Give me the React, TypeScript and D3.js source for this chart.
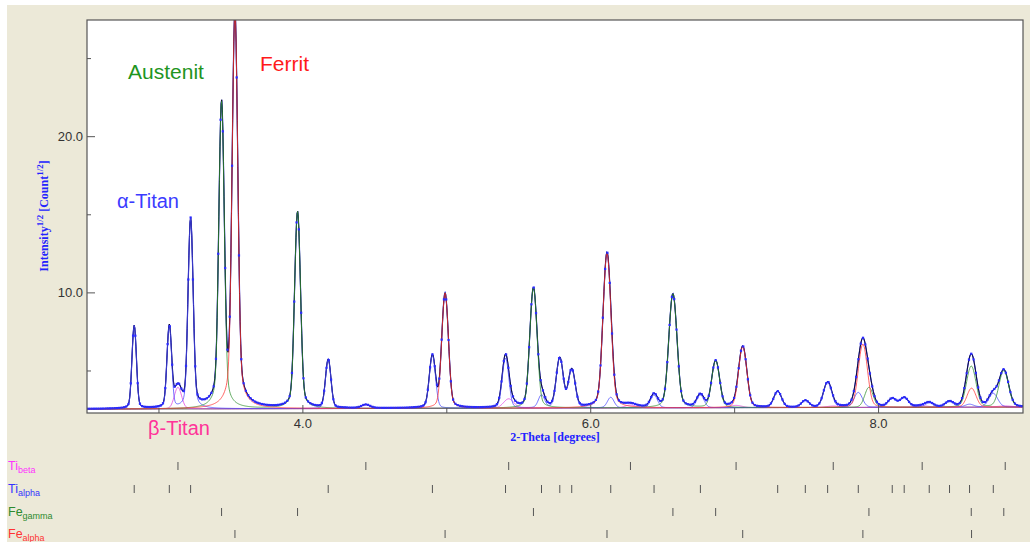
import React from 'react';
import * as d3 from 'd3';

const tiBetaPos = [3.132, 4.4375, 5.43, 6.276, 7.01, 7.685, 8.303, 8.88];
const tiBetaInt = [9.0, 1.2, 3.5, 1.0, 0.8, 0.5, 0.5, 0.4];

const tiAlphaPos = [2.828, 3.072, 3.22, 4.176, 4.9, 5.408, 5.658, 5.785, 5.868, 6.139, 6.44, 6.762, 7.299, 7.491, 7.646, 7.859, 8.095, 8.178, 8.352, 8.493, 8.632, 8.797];
const tiAlphaInt = [56, 56, 212, 26, 29, 27, 5, 27, 19, 4, 5, 5, 6.5, 2.5, 11, 6, 3.2, 3.6, 1.5, 2, 1, 5.5];

const feGammaPos = [3.435, 3.963, 5.602, 6.571, 6.868, 7.933, 8.644, 8.87];
const feGammaInt = [490, 225, 100, 92, 25, 8.5, 21, 18];

const feAlphaPos = [3.528, 4.988, 6.113, 7.056, 7.891, 8.646];
const feAlphaInt = [780, 93, 150, 36, 38, 8];

// background level (sqrt counts) at the two ends of the scan
const bgTheta = [2.5, 9.0];
const bgSqrt = [2.56, 2.69];

const xTicks = [3, 4, 5, 6, 7, 8];
const xTickLabels = ['', '4.0', '', '6.0', '', '8.0'];
const yTicks = [5, 10, 15, 20, 25];
const yTickLabels = ['', '10.0', '', '20.0', ''];

const phaseNames = ['Ti', 'Ti', 'Fe', 'Fe'];
const phaseSubs = ['beta', 'alpha', 'gamma', 'alpha'];
const phaseColors = ['#e040e0', '#4646ff', '#2f8f2f', '#ff3030'];
const phaseLabelColors = ['#ff33ff', '#3333ff', '#2d8a2d', '#ff3333'];

const PL = 87, PR = 1023, PT = 20, PB = 413;

function pv(t: number, x0: number, h: number, w: number) {
  const d = (t - x0) / w;
  const eta = 0.16;
  return h * (eta / (1 + 4 * d * d) + (1 - eta) * Math.exp(-4 * Math.LN2 * d * d));
}
function fwhm(t: number) {
  return 0.012 + 0.0065 * t;
}

export default function App() {
  const x = d3.scaleLinear().domain([2.5, 9.0]).range([PL, 1022.5]);
  const y = d3.scaleLinear().domain([2.31, 27.47]).range([PB, PT]);
  const bgScale = d3.scaleLinear().domain(bgTheta).range(bgSqrt);

  const phases = [
    { pos: tiBetaPos, int: tiBetaInt, wf: 1.7 },
    { pos: tiAlphaPos, int: tiAlphaInt, wf: 1 },
    { pos: feGammaPos, int: feGammaInt, wf: 1 },
    { pos: feAlphaPos, int: feAlphaInt, wf: 1 },
  ];

  const step = 0.004;
  const thetas = d3.range(2.5, 9.0 + 1e-9, step);
  const bgI = (t: number) => bgScale(t) ** 2;
  const phaseSum = (p: typeof phases[0], t: number) =>
    p.pos.reduce((s, x0, i) => s + pv(t, x0, p.int[i], fwhm(x0) * p.wf), 0);

  const rows = thetas.map((t) => {
    const parts = phases.map((p) => phaseSum(p, t));
    const b = bgI(t);
    return {
      t,
      bg: Math.sqrt(b),
      comps: parts.map((v) => Math.sqrt(b + v)),
      calc: Math.sqrt(b + d3.sum(parts)),
    };
  });

  const line = (acc: (r: typeof rows[0]) => number) =>
    d3
      .line<typeof rows[0]>()
      .x((r) => x(r.t))
      .y((r) => y(acc(r)))(rows) as string;

  const dots = rows.filter((_, i) => i % 4 === 0);

  const sans = 'Liberation Sans, Arial, sans-serif';
  const serif = 'Liberation Serif, Times New Roman, serif';

  const rowY = [466, 489, 512, 534];

  return (
    <svg width={1030} height={542} style={{ position: 'absolute', left: 0, top: 0 }}>
      <rect x={0} y={0} width={1030} height={542} fill="#ffffff" />
      <rect x={7} y={5} width={1023} height={537} fill="#ece9d8" />
      <defs>
        <clipPath id="plotclip">
          <rect x={PL} y={PT} width={PR - PL} height={PB - PT} />
        </clipPath>
      </defs>
      <rect x={PL} y={PT} width={PR - PL} height={PB - PT} fill="#ffffff" />
      <g clipPath="url(#plotclip)">
        <path d={line((r) => r.bg)} fill="none" stroke="#333" strokeWidth={1} />
        <path d={line((r) => r.calc)} fill="none" stroke="#2222ff" strokeWidth={1.2} />
        <path d={line((r) => r.calc)} fill="none" stroke="#111" strokeWidth={0.9} />
        {phaseColors.map((c, i) => (
          <path key={i} d={line((r) => r.comps[i])} fill="none" stroke={c} strokeWidth={1} opacity={0.75} />
        ))}
        {dots.map((r, i) => (
          <rect key={i} x={x(r.t) - 1.1} y={y(r.calc) - 1.1} width={2.2} height={2.2} fill="#2a2aff" />
        ))}
      </g>
      <rect x={PL} y={PT} width={PR - PL} height={PB - PT} fill="none" stroke="#555" strokeWidth={1.2} />
      {/* x ticks */}
      {xTicks.map((t, i) => (
        <g key={i}>
          <line x1={x(t)} x2={x(t)} y1={PB} y2={PB - (xTickLabels[i] ? 8 : 5)} stroke="#555" />
          {xTickLabels[i] && (
            <text x={x(t)} y={428} textAnchor="middle" fontFamily={sans} fontSize={13} fill="#333">
              {xTickLabels[i]}
            </text>
          )}
        </g>
      ))}
      {/* y ticks */}
      {yTicks.map((v, i) => (
        <g key={i}>
          <line x1={PL} x2={PL + (yTickLabels[i] ? 8 : 4)} y1={y(v)} y2={y(v)} stroke="#555" />
          {yTickLabels[i] && (
            <text x={83} y={y(v) + 4.5} textAnchor="end" fontFamily={sans} fontSize={13} fill="#333">
              {yTickLabels[i]}
            </text>
          )}
        </g>
      ))}
      {/* axis titles */}
      <text x={555} y={441} textAnchor="middle" fontFamily={serif} fontWeight="bold" fontSize={12} fill="#2222ff">
        2-Theta [degrees]
      </text>
      <text
        transform="translate(48,216) rotate(-90)"
        textAnchor="middle"
        fontFamily={serif}
        fontWeight="bold"
        fontSize={12}
        fill="#2222ff"
      >
        Intensity
        <tspan dy={-5} fontSize={9}>1/2</tspan>
        <tspan dy={5}> [Count</tspan>
        <tspan dy={-5} fontSize={9}>1/2</tspan>
        <tspan dy={5}>]</tspan>
      </text>
      {/* phase annotations */}
      <text x={128} y={79} fontFamily={sans} fontSize={21} fill="#1f951f">Austenit</text>
      <text x={260} y={71} fontFamily={sans} fontSize={21} fill="#ff1a1a">Ferrit</text>
      <text x={117} y={208} fontFamily={sans} fontSize={20} fill="#3b3bff">α-Titan</text>
      <text x={148} y={435} fontFamily={sans} fontSize={20} fill="#ff3399">β-Titan</text>
      {/* reflection tick rows */}
      {phases.map((p, i) => (
        <g key={i}>
          <text x={8} y={rowY[i] + 4} fontFamily={sans} fontSize={12.5} fill={phaseLabelColors[i]}>
            {phaseNames[i]}
            <tspan dy={2.5} fontSize={9}>{phaseSubs[i]}</tspan>
          </text>
          {p.pos.map((t, j) => (
            <line key={j} x1={x(t)} x2={x(t)} y1={rowY[i] - 4} y2={rowY[i] + 4} stroke="#555" strokeWidth={1} />
          ))}
        </g>
      ))}
    </svg>
  );
}
